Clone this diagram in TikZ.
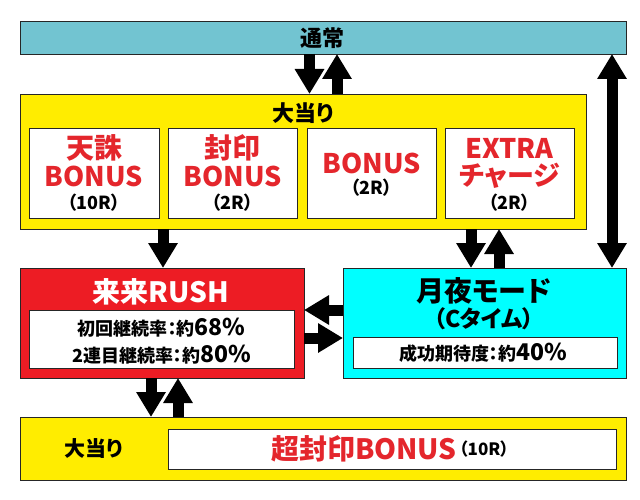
\documentclass[tikz,border=0pt]{standalone}
\usepackage{fontspec}
\setmainfont{Noto Sans CJK JP}[RawFeature=+palt, BoldFont={* Black}, BoldFeatures={RawFeature=+palt}]
\usetikzlibrary{arrows.meta}
\definecolor{tsujocol}{RGB}{114,196,209}
\definecolor{yel}{RGB}{255,237,0}
\definecolor{rushred}{RGB}{237,28,36}
\definecolor{txtred}{RGB}{228,38,44}
\definecolor{cyanbox}{RGB}{0,255,255}
\newcommand{\fs}[1]{\fontsize{#1}{#1}\selectfont}
\begin{document}
\begin{tikzpicture}[x=1pt,y=-1pt,
  box/.style={draw=black!85, line width=0.8pt, inner sep=0pt, outer sep=0pt, anchor=north west},
  wbox/.style={box, fill=white},
  txt/.style={inner sep=0pt, font=\bfseries, text=black},
  redtxt/.style={txt, text=txtred},
  bigarrow/.style={line width=11pt, line join=miter, -{Triangle[width=28pt,length=25pt]}},
  dblarrow/.style={line width=11pt, line join=miter, {Triangle[width=28pt,length=25pt]}-{Triangle[width=28pt,length=25pt]}}]
\useasboundingbox (0,0) rectangle (640,500);
% boxes
\node[box, fill=tsujocol, minimum width=606pt, minimum height=33pt] (tsujo) at (20,21) {};
\node[box, fill=yel, minimum width=566pt, minimum height=135pt] (oatari) at (20,94) {};
\node[wbox, minimum width=129.5pt, minimum height=90pt] (b1) at (29.5,128) {};
\node[wbox, minimum width=129pt, minimum height=90pt] (b2) at (168,128) {};
\node[wbox, minimum width=129pt, minimum height=90pt] (b3) at (307,128) {};
\node[wbox, minimum width=129pt, minimum height=90pt] (b4) at (445,128) {};
\node[box, fill=rushred, minimum width=284pt, minimum height=110pt] (rush) at (20,268) {};
\node[wbox, minimum width=264.5pt, minimum height=58pt] (rushin) at (29.5,310) {};
\node[box, fill=cyanbox, minimum width=283pt, minimum height=110pt] (tsuki) at (343,268) {};
\node[wbox, minimum width=264pt, minimum height=31pt] (tsukiin) at (353,337) {};
\node[box, fill=yel, minimum width=606pt, minimum height=63pt] (oat2) at (20,417) {};
\node[wbox, minimum width=448pt, minimum height=40pt] (oat2in) at (168,429) {};
% texts
\node[txt, font=\bfseries\fs{22}] (t0) at (322,38) {通常};
\node[txt, font=\bfseries\fs{22}] (t1) at (303,113) {大当り};
\node[redtxt, font=\bfseries\fs{28}] (t1a) at (94,148) {天誅};
\node[redtxt, font=\bfseries\fs{27}] (t1b) at (94,176) {BONUS};
\node[txt, font=\bfseries\fs{18}] (t1c) at (94,203) {（10R）};
\node[redtxt, font=\bfseries\fs{28}] (t2a) at (232.5,148) {封印};
\node[redtxt, font=\bfseries\fs{27}] (t2b) at (232.5,176) {BONUS};
\node[txt, font=\bfseries\fs{18}] (t2c) at (232.5,203) {（2R）};
\node[redtxt, font=\bfseries\fs{27}] (t3b) at (371.5,163) {BONUS};
\node[txt, font=\bfseries\fs{18}] (t3c) at (371.5,188) {（2R）};
\node[redtxt, font=\bfseries\fs{27}] (t4a) at (509.5,148) {EXTRA};
\node[redtxt, font=\bfseries\fs{27}] (t4b) at (509.5,176) {チャージ};
\node[txt, font=\bfseries\fs{18}] (t4c) at (509.5,203) {（2R）};
\node[txt, text=white, font=\bfseries\fs{28}] (t5) at (161,292) {来来RUSH};
\node[txt, font=\bfseries\fs{18}] (t5a) at (161.75,328) {初回継続率：約{\fs{23}68\%}};
\node[txt, font=\bfseries\fs{18}] (t5b) at (161.75,355) {2連目継続率：約{\fs{23}80\%}};
\node[txt, font=\bfseries\fs{28}] (t6) at (484,291) {月夜モード};
\node[txt, font=\bfseries\fs{23}] (t6a) at (484,318.5) {（Cタイム）};
\node[txt, font=\bfseries\fs{18}] (t6b) at (483,353) {成功期待度：約{\fs{23}40\%}};
\node[txt, font=\bfseries\fs{21}] (t7) at (94,449) {大当り};
\node[redtxt, font=\bfseries\fs{28}, anchor=east] (t8) at (457,449) {超封印BONUS};
\node[txt, font=\bfseries\fs{17}, anchor=west, xshift=2pt] (t8a) at (t8.east) {（10R）};
% arrow positions
\coordinate (xa) at (309.5,0);
\coordinate (xb) at (337,0);
\coordinate (xc) at (612,0);
\coordinate (xd) at (163,0);
\coordinate (xe) at (471,0);
\coordinate (xf) at (499,0);
\coordinate (xg) at (151,0);
\coordinate (xh) at (178,0);
\coordinate (ya) at (0,310);
\coordinate (yb) at (0,338);
% arrows
\draw[bigarrow] (tsujo.south -| xa) -- (oatari.north -| xa);
\draw[bigarrow] (oatari.north -| xb) -- (tsujo.south -| xb);
\draw[dblarrow] (tsujo.south -| xc) -- (tsuki.north -| xc);
\draw[bigarrow] (oatari.south -| xd) -- (rush.north -| xd);
\draw[bigarrow] (oatari.south -| xe) -- (tsuki.north -| xe);
\draw[bigarrow] (tsuki.north -| xf) -- (oatari.south -| xf);
\draw[bigarrow] (tsuki.west |- ya) -- (rush.east |- ya);
\draw[bigarrow] (rush.east |- yb) -- (tsuki.west |- yb);
\draw[bigarrow] (rush.south -| xg) -- (oat2.north -| xg);
\draw[bigarrow] (oat2.north -| xh) -- (rush.south -| xh);
\end{tikzpicture}
\end{document}
